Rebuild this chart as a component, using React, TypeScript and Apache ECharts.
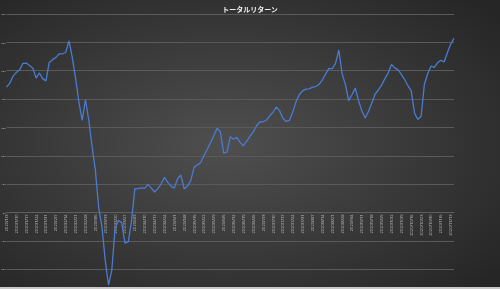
import React, { useEffect, useRef } from "react";
import * as echarts from "echarts";

const titleText = "トータルリターン";

const dates: string[] = [
  "2020/1/3","2020/1/6","2020/1/8","2020/1/10","2020/1/13","2020/1/15","2020/1/17","2020/1/20","2020/1/22","2020/1/24","2020/1/27","2020/1/29","2020/1/31",
  "2020/2/3","2020/2/5","2020/2/7","2020/2/10","2020/2/12","2020/2/14","2020/2/17","2020/2/19","2020/2/21","2020/2/24","2020/2/26","2020/2/28",
  "2020/3/2","2020/3/4","2020/3/6","2020/3/9","2020/3/11","2020/3/13","2020/3/16","2020/3/18","2020/3/20","2020/3/23","2020/3/25","2020/3/27","2020/3/30",
  "2020/4/1","2020/4/3","2020/4/6","2020/4/8","2020/4/10","2020/4/13","2020/4/15","2020/4/17","2020/4/20","2020/4/22","2020/4/24","2020/4/27","2020/4/29",
  "2020/5/1","2020/5/4","2020/5/6","2020/5/8","2020/5/11","2020/5/13","2020/5/15","2020/5/18","2020/5/20","2020/5/22","2020/5/25","2020/5/27","2020/5/29",
  "2020/6/1","2020/6/3","2020/6/5","2020/6/8","2020/6/10","2020/6/12","2020/6/15","2020/6/17","2020/6/19","2020/6/22","2020/6/24","2020/6/26","2020/6/29",
  "2020/7/1","2020/7/3","2020/7/6","2020/7/8","2020/7/10","2020/7/13","2020/7/15","2020/7/17","2020/7/20","2020/7/22","2020/7/24","2020/7/27","2020/7/29","2020/7/31",
  "2020/8/3","2020/8/5","2020/8/7","2020/8/10","2020/8/12","2020/8/14","2020/8/17","2020/8/19","2020/8/21","2020/8/24","2020/8/26","2020/8/28","2020/8/31",
  "2020/9/2","2020/9/4","2020/9/7","2020/9/9","2020/9/11","2020/9/14","2020/9/16","2020/9/18","2020/9/21","2020/9/23","2020/9/25","2020/9/28","2020/9/30",
  "2020/10/2","2020/10/5","2020/10/7","2020/10/9","2020/10/12","2020/10/14","2020/10/16","2020/10/19","2020/10/21","2020/10/23","2020/10/26","2020/10/28","2020/10/30",
  "2020/11/2","2020/11/4","2020/11/6","2020/11/9","2020/11/11","2020/11/13","2020/11/16"
];

const totalReturn: number[] = [
  44.2, 45.6, 48.1, 49.4, 50.3, 52.6, 52.7, 51.8, 50.9, 47.4, 49.2, 47.2, 46.4,
  52.9, 53.9, 54.7, 55.9, 55.9, 56.5, 60.5, 54.6, 47.3, 39.0, 32.5, 39.7,
  32.6, 23.3, 15.0, 1.9, -5.0, -16.8, -25.6, -20.4, -5.6, -2.8, -3.6, -10.8, -10.4,
  -3.0, 8.4, 8.4, 8.7, 8.5, 9.9, 8.6, 7.2, 8.4, 10.1, 12.4, 10.6, 9.3,
  8.6, 11.9, 13.2, 8.3, 9.3, 11.2, 15.9, 16.8, 17.5, 20.1, 22.2, 24.6, 27.1,
  29.7, 28.4, 20.9, 21.3, 26.7, 25.8, 26.5, 24.7, 23.5, 25.2, 26.8, 28.4, 30.6,
  31.9, 32.0, 32.6, 34.1, 35.4, 37.2, 35.9, 33.2, 32.1, 32.5, 35.4, 39.1, 41.6, 42.9,
  43.5, 43.6, 44.2, 44.4, 45.2, 46.8, 48.9, 50.8, 50.7, 52.6, 57.3, 48.9, 45.1,
  39.4, 41.5, 43.9, 39.3, 35.9, 33.3, 35.6, 38.5, 41.7, 43.2, 44.9, 47.2, 49.2,
  52.2, 51.0, 50.3, 48.7, 46.9, 44.7, 42.9, 35.1, 32.8, 33.9, 45.2, 48.9, 51.6,
  51.2, 52.8, 53.7, 53.1, 56.4, 59.4, 61.4
];

const yMin = -30;
const yMax = 70;
const yStep = 10;

export default function App() {
  const ref = useRef<HTMLDivElement>(null);
  useEffect(() => {
    if (!ref.current) return;
    const chart = echarts.init(ref.current, null, { renderer: "svg" });
    const gridTop = 14;
    const gridHeight = 283.5;
    const zeroOffset = (gridHeight * (0 - yMin)) / (yMax - yMin);
    chart.setOption({
      animation: false,
      backgroundColor: {
        type: "radial",
        x: 0.45,
        y: 0.5,
        r: 0.7,
        colorStops: [
          { offset: 0, color: "#4f4f4f" },
          { offset: 1, color: "#262626" },
        ],
      },
      title: {
        text: titleText,
        left: "center",
        top: 0,
        textStyle: {
          color: "#eeeeee",
          fontSize: 7,
          fontWeight: "bold",
          fontFamily: "Noto Sans CJK JP",
        },
      },
      grid: {
        left: 6.5,
        right: 46,
        top: gridTop,
        height: gridHeight,
        containLabel: false,
        outerBoundsMode: "none",
      },
      xAxis: {
        type: "category",
        data: dates,
        boundaryGap: false,
        position: "bottom",
        offset: -zeroOffset,
        axisLine: { onZero: false, lineStyle: { color: "#5e5e5e", width: 1 } },
        axisTick: { show: false },
        axisLabel: {
          interval: 2,
          rotate: 90,
          fontSize: 4,
          color: "#b8b8b8",
          margin: 2,
          fontFamily: "Noto Sans",
        },
        splitLine: { show: false },
      },
      yAxis: {
        type: "value",
        min: yMin,
        max: yMax,
        interval: yStep,
        axisLine: { show: false },
        axisTick: { show: false },
        axisLabel: {
          formatter: "{value}%",
          fontSize: 2.5,
          color: "#b8b8b8",
          margin: 0.3,
          showMinLabel: false,
          fontFamily: "Noto Sans",
        },
        splitLine: { lineStyle: { color: "#5a5a5a", width: 1 } },
      },
      series: [
        {
          type: "line",
          data: totalReturn,
          showSymbol: false,
          lineStyle: { color: "#4a7bd3", width: 1.3 },
        },
      ],
      graphic: [
        {
          type: "rect",
          left: 0,
          top: 287,
          shape: { width: 500, height: 2 },
          style: { fill: "#c8c8c8" },
        },
      ],
    });
    return () => chart.dispose();
  }, []);
  return (
    <div
      ref={ref}
      style={{ position: "fixed", left: 0, top: 0, width: 500, height: 289 }}
    />
  );
}
